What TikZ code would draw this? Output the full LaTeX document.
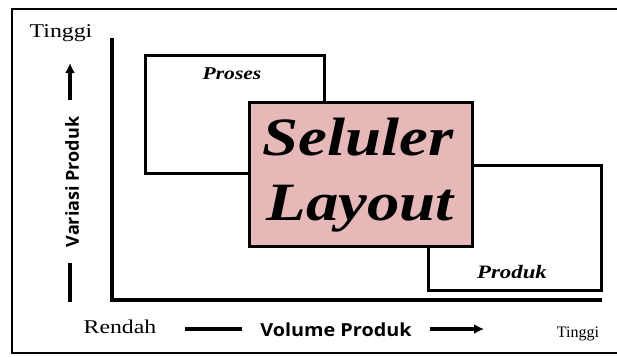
\documentclass[tikz,border=0pt]{standalone}
\usepackage{fontspec}
\usetikzlibrary{arrows.meta}
\newfontfamily\serifw[FakeStretch=1.22]{Liberation Serif}
\newfontfamily\serifbi[FakeStretch=1.2]{Liberation Serif Bold Italic}
\newfontfamily\serifn{Liberation Serif}
\newfontfamily\sansw[FakeStretch=1.1]{Open Sans}
\newfontfamily\sansn{Open Sans}
\definecolor{boxpink}{HTML}{E6B9B8}
\begin{document}
\begin{tikzpicture}[x=1pt,y=1pt,
  frame/.style={line width=2.4pt},
  axis/.style={line width=4.5pt},
  regbox/.style={draw, line width=3pt, rectangle, inner sep=0pt},
  lbl/.style={inner sep=0pt, anchor=base},
  arr/.style={line width=3.2pt, -{Latex[length=10pt,width=10pt]}},
  plain/.style={line width=3.2pt}]
\useasboundingbox (0,0) rectangle (617,-356);
\clip (0,0) rectangle (617,-356);
\fill[white] (0,0) rectangle (617,-356);
% outer frame (right side lies outside the picture)
\draw[frame] (640,-9) -- (12,-9) -- (12,-353) -- (640,-353);
% axes
\coordinate (ytop) at (112,-38);
\coordinate (orig) at (112,-300);
\coordinate (xend) at (602,-300);
\draw[axis] (ytop) -- (orig) -- (xend);
% boxes
\node[regbox, minimum width=179pt, minimum height=118pt] (proses) at (234.5,-114) {};
\node[regbox, minimum width=173pt, minimum height=125pt] (produk) at (514.5,-227.5) {};
\node[regbox, fill=boxpink, minimum width=223pt, minimum height=144pt] (seluler) at (360.5,-174) {};
% box labels
\node[lbl] (tproses) at (232,-79) {\serifbi\fontsize{18}{18}\selectfont Proses};
\node[lbl] (tprodukb) at (512,-278) {\serifbi\fontsize{19}{19}\selectfont Produk};
\node[lbl] (tsel) at (358,-155) {\serifbi\fontsize{54}{54}\selectfont Seluler};
\node[lbl] (tlay) at (360,-220) {\serifbi\fontsize{54}{54}\selectfont Layout};
% vertical axis labels
\node[lbl] (ttop) at (61,-37) {\serifw\fontsize{19.5}{19.5}\selectfont Tinggi};
\node[inner sep=0pt, rotate=90] (tvar) at (72,-182) {\sansn\fontsize{18}{18}\selectfont\bfseries Variasi Produk};
\coordinate (vup0) at (70,-100);
\coordinate (vup1) at (70,-63);
\draw[arr] (vup0) -- (vup1);
\coordinate (vl0) at (70,-263);
\coordinate (vl1) at (70,-302);
\draw[plain] (vl0) -- (vl1);
% horizontal axis labels
\node[lbl] (trend) at (120,-333) {\serifw\fontsize{19.5}{19.5}\selectfont Rendah};
\node[lbl] (tvol) at (336,-336) {\sansw\fontsize{18}{18}\selectfont\bfseries Volume Produk};
\node[lbl] (tright) at (578,-337) {\serifn\fontsize{16}{16}\selectfont Tinggi};
\coordinate (hl0) at (185,-329);
\coordinate (hl1) at (242,-329);
\draw[plain] (hl0) -- (hl1);
\coordinate (ha0) at (430,-329);
\coordinate (ha1) at (484,-329);
\draw[arr] (ha0) -- (ha1);
\end{tikzpicture}
\end{document}
